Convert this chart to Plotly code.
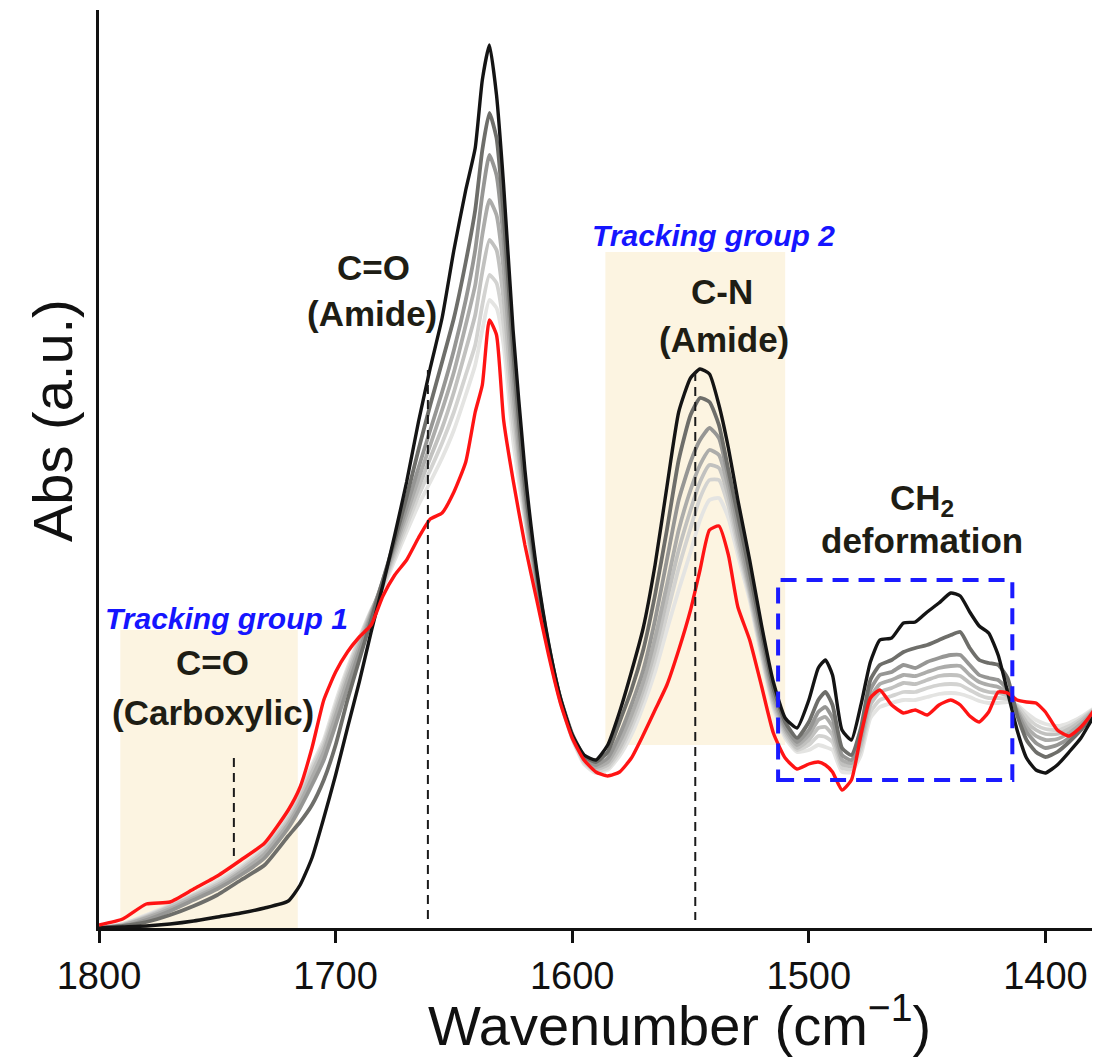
import plotly.graph_objects as go

# Wavenumber grid (cm^-1)
wavenumber = [1800,1790,1780,1770,1760,1750,1740,1730,1720,1715,1710,1705,1700,1695,1690,1685,1680,1675,1670,1665,
              1660,1655,1650,1645,1641,1638,1635,1632,1629,1625,1620,1615,1610,1605,1600,1595,1590,1585,1580,1575,
              1570,1565,1560,1555,1550,1546,1542,1538,1534,1530,1525,1520,1515,1510,1505,1500,1496,1493,1490,1486,
              1482,1478,1474,1470,1465,1460,1455,1450,1445,1440,1436,1432,1428,1424,1420,1416,1412,1408,1404,1400,
              1395,1390,1385,1380,1377]

# Absorbance (a.u.) of the spectra, darkest (first) to lightest, plus the red spectrum
abs_s0 = [0,1,2,4,7,11,15,20,27,43,70,110,153,200,246,296,343,393,446,506,
          560,610,678,738,780,848,883,833,743,598,458,358,285,230,193,173,168,183,216,256,
          300,363,441,516,550,559,554,523,480,428,368,303,246,210,200,228,260,268,253,198,
          188,223,266,288,290,305,306,316,325,335,332,316,302,295,273,236,198,170,158,155,
          163,176,190,210,220]
abs_s1 = [0,2,6,13,22,33,48,63,92,106,123,148,183,228,268,308,348,388,431,478,
          523,566,610,666,718,778,815,790,713,578,443,353,283,230,194,172,166,176,206,238,
          278,333,398,468,513,530,526,503,458,413,356,296,240,206,190,206,228,236,223,180,
          173,200,248,263,268,276,280,283,288,293,296,280,268,265,263,250,213,188,176,171,
          176,186,198,213,220]
abs_s2 = [0,2,8,17,28,39,53,70,100,120,143,168,203,240,276,312,348,384,421,460,
          498,536,578,628,678,733,773,753,688,558,433,348,281,229,193,170,163,170,193,223,
          258,308,368,428,466,488,500,490,450,403,346,288,234,202,186,198,216,221,210,173,
          168,193,238,253,256,263,260,266,270,273,273,263,253,250,248,238,216,196,185,180,
          183,190,201,214,220]
abs_s3 = [0,3,10,19,30,41,56,74,104,125,150,176,212,248,281,314,346,380,414,449,
          483,518,556,603,643,693,728,713,658,538,423,345,280,228,192,169,161,166,186,213,
          246,290,343,398,438,463,478,473,440,393,340,283,230,199,183,193,208,211,201,168,
          165,188,230,244,248,253,252,256,260,262,262,253,246,243,241,235,218,201,192,188,
          189,195,204,216,221]
abs_s4 = [0,3,11,21,32,43,58,77,107,129,156,181,218,253,285,316,344,376,408,440,
          470,500,536,578,613,656,688,678,628,520,418,342,279,228,191,168,159,163,180,206,
          238,278,328,378,418,446,463,460,431,386,336,278,226,196,180,188,200,201,193,164,
          162,183,223,236,240,245,244,248,252,253,252,245,239,236,235,232,220,206,198,194,
          194,199,207,217,222]
abs_s5 = [0,4,12,22,33,45,60,79,110,132,160,185,222,257,288,317,342,372,402,432,
          458,485,516,553,583,623,653,645,603,503,413,340,278,227,190,166,157,160,176,200,
          230,268,313,360,400,430,448,448,422,380,332,275,223,193,178,183,192,191,186,160,
          159,178,216,228,232,236,236,240,243,244,243,238,233,230,230,229,222,211,203,199,
          198,202,209,218,222]
abs_s6 = [0,4,13,23,34,47,62,81,113,135,163,188,226,260,290,318,340,368,396,423,
          446,470,498,533,563,598,628,620,583,488,408,338,277,226,189,164,155,158,172,193,
          222,256,298,338,376,408,428,430,410,373,328,271,220,190,176,178,183,181,178,156,
          156,173,210,221,225,228,228,231,234,235,234,231,227,225,225,226,223,215,208,204,
          202,205,211,219,223]
abs_red = [3,9,24,26,39,52,68,85,118,141,180,228,256,276,291,303,332,353,368,390,
           409,415,436,466,516,543,608,593,508,448,383,328,273,225,190,168,156,152,156,170,
           193,218,243,278,318,358,398,402,373,321,288,242,195,170,159,164,166,163,156,138,
           148,193,230,238,223,215,218,213,223,228,223,212,206,216,236,235,228,226,225,216,
           198,192,201,216,228]

# Annotated peak positions (cm^-1) and tracked regions
peak_lines = [1743, 1661, 1548]
track_group1 = [1791, 1716]
track_group2 = [1586, 1510]
ch2_box = [1513, 1414]
x_ticks = [1800, 1700, 1600, 1500, 1400]

series = [
    (abs_s6, "#e4e4e2", 3.8),
    (abs_s5, "#d3d3d1", 3.8),
    (abs_s4, "#c1c1bf", 3.8),
    (abs_s3, "#acacaa", 3.8),
    (abs_s2, "#969694", 3.8),
    (abs_s1, "#6e6e6a", 3.8),
    (abs_s0, "#141414", 3.4),
    (abs_red, "#ff1414", 3.4),
]

# page body has an 8px default margin; size the figure so the page matches the reference
OFF = 8
W, H = 1100 - OFF, 1057 - OFF
L, R, T, B = 99 - OFF, 0, 10 - OFF, 1057 - OFF - (928 - OFF)

fig = go.Figure()
for ys, col, w in series:
    assert len(ys) == len(wavenumber)
    fig.add_trace(go.Scatter(x=wavenumber, y=ys, mode="lines",
                             line=dict(color=col, width=w, shape="spline", smoothing=0.5),
                             showlegend=False, hoverinfo="skip"))

shade = "#fcf4e1"
fig.add_shape(type="rect", xref="x", yref="y", x0=track_group1[0], x1=track_group1[1], y0=0, y1=298,
              fillcolor=shade, line=dict(width=0), layer="below")
fig.add_shape(type="rect", xref="x", yref="y", x0=track_group2[0], x1=track_group2[1], y0=183, y1=676,
              fillcolor=shade, line=dict(width=0), layer="below")
fig.add_shape(type="rect", xref="x", yref="y", x0=ch2_box[0], x1=ch2_box[1], y0=148, y1=348,
              fillcolor="rgba(0,0,0,0)", line=dict(color="#1a1aff", width=4, dash="16px,10px"), layer="above")

dash_spans = [(170, 72), (558, 8), (556, 8)]
for xv, (ya, yb) in zip(peak_lines, dash_spans):
    fig.add_shape(type="line", xref="x", yref="y", x0=xv, x1=xv, y0=ya, y1=yb,
                  line=dict(color="#1a1a1a", width=2, dash="9px,6px"), layer="above")

lab_font = dict(family="Liberation Sans, Arial, sans-serif", size=35, color="#1e1d14")
blue_font = dict(family="Liberation Sans, Arial, sans-serif", size=30, color="#1515ff")

def ann(x, y, text, font):
    fig.add_annotation(x=x, y=y, xref="x", yref="y", text=text, showarrow=False,
                       font=font, xanchor="center", yanchor="middle")

ann(1684, 661, "<b>C=O</b>", lab_font)
ann(1684.5, 615, "<b>(Amide)</b>", lab_font)
ann(1540.5, 693, "<b><i>Tracking group 2</i></b>", blue_font)
ann(1536.7, 637, "<b>C-N</b>", lab_font)
ann(1535.8, 589, "<b>(Amide)</b>", lab_font)
ann(1452, 428, "<b>CH<sub>2</sub></b>", lab_font)
ann(1452.2, 388, "<b>deformation</b>", lab_font)
ann(1746, 310, "<b><i>Tracking group 1</i></b>", blue_font)
ann(1752, 266, "<b>C=O</b>", lab_font)
ann(1752, 216, "<b>(Carboxylic)</b>", lab_font)

def px_to_paper(px, py):
    px, py = px - OFF, py - OFF
    return (px - L) / (W - L - R), (H - B - py) / (H - T - B)

xt, yt = px_to_paper(679, 1021)
fig.add_annotation(x=xt, y=yt, xref="paper", yref="paper", text="Wavenumber (cm<sup>\u22121</sup>)",
                   showarrow=False, xanchor="center", yanchor="middle",
                   font=dict(family="Liberation Sans, Arial, sans-serif", size=56, color="#111"))
xa, ya_ = px_to_paper(53, 421)
fig.add_annotation(x=xa, y=ya_, xref="paper", yref="paper", text="Abs (a.u.)", textangle=-90,
                   showarrow=False, xanchor="center", yanchor="middle",
                   font=dict(family="Liberation Sans, Arial, sans-serif", size=56, color="#111"))

fig.update_layout(
    width=W, height=H, margin=dict(l=L, r=R, t=T, b=B),
    plot_bgcolor="white", paper_bgcolor="white",
    xaxis=dict(range=[1800, 1376.95], showgrid=False, zeroline=False, showline=True, linecolor="#111",
               linewidth=3, ticks="outside", ticklen=12, tickwidth=2.5, tickcolor="#111",
               tickvals=x_ticks, ticktext=[str(v) for v in x_ticks],
               tickfont=dict(family="Liberation Sans, Arial", size=38, color="#111")),
    yaxis=dict(range=[0, 918], showgrid=False, zeroline=False, showline=True, linecolor="#111",
               linewidth=3, showticklabels=False, ticks=""),
)

fig.write_html("out.html")
